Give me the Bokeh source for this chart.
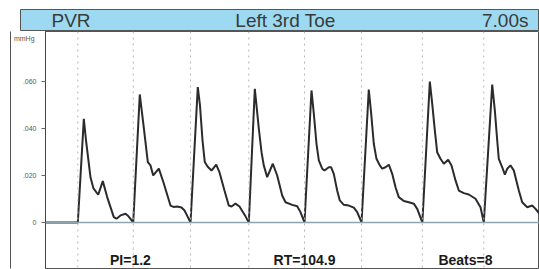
from bokeh.plotting import figure
from bokeh.layouts import column
from bokeh.models import Range1d, Span, Label, FixedTicker, LinearAxis
from bokeh.core.properties import value
from bokeh.embed import file_html
from bokeh.resources import INLINE

# ---- data ----
header_left = "PVR"
header_center = "Left 3rd Toe"
header_right = "7.00s"
duration_s = 7.00

time_s = [0.000, 0.458, 0.543, 0.574, 0.614, 0.638, 0.680, 0.747, 0.812, 0.874, 0.968, 1.006, 1.063, 1.134, 1.176, 1.243,
          1.336, 1.389, 1.450, 1.488, 1.526, 1.606, 1.672, 1.771, 1.814, 1.866, 1.927, 1.970, 2.012, 2.055,
          2.158, 2.189, 2.225, 2.257, 2.296, 2.352, 2.419, 2.466, 2.536, 2.597, 2.636, 2.692, 2.749, 2.792, 2.834, 2.881,
          2.966, 3.023, 3.061, 3.093, 3.141, 3.221, 3.283, 3.354, 3.401, 3.496, 3.567, 3.613, 3.670,
          3.769, 3.802, 3.840, 3.873, 3.921, 3.953, 4.014, 4.048, 4.085, 4.133, 4.170, 4.227, 4.298, 4.369, 4.417, 4.478,
          4.581, 4.615, 4.652, 4.690, 4.737, 4.771, 4.818, 4.865, 4.913, 4.960, 5.006, 5.077, 5.148, 5.219, 5.267, 5.340,
          5.446, 5.480, 5.517, 5.550, 5.597, 5.644, 5.706, 5.753, 5.810, 5.857, 5.928, 5.998, 6.093, 6.164, 6.211,
          6.330, 6.367, 6.401, 6.423, 6.472, 6.509, 6.543, 6.589, 6.636, 6.707, 6.755, 6.826, 6.897, 6.944, 7.000]

pressure = [0, 0, 0.0441, 0.0349, 0.0251, 0.0191, 0.0145, 0.0118, 0.0176, 0.0108, 0.0023, 0.0016, 0.0030, 0.0037, 0.0026, 0,
            0.0545, 0.0413, 0.0257, 0.0243, 0.0200, 0.0229, 0.0170, 0.0072, 0.0066, 0.0068, 0.0064, 0.0051, 0.0026, 0,
            0.0576, 0.0498, 0.0349, 0.0257, 0.0238, 0.0221, 0.0246, 0.0213, 0.0136, 0.0072, 0.0068, 0.0080, 0.0068, 0.0047, 0.0026, 0,
            0.0569, 0.0399, 0.0299, 0.0243, 0.0193, 0.0250, 0.0200, 0.0115, 0.0086, 0.0075, 0.0069, 0.0044, 0,
            0.0562, 0.0463, 0.0335, 0.0264, 0.0229, 0.0221, 0.0235, 0.0235, 0.0207, 0.0136, 0.0094, 0.0075, 0.0072, 0.0063, 0.0044, 0,
            0.0566, 0.0463, 0.0335, 0.0271, 0.0243, 0.0229, 0.0235, 0.0246, 0.0207, 0.0150, 0.0108, 0.0091, 0.0086, 0.0080, 0.0058, 0,
            0.0600, 0.0505, 0.0391, 0.0299, 0.0271, 0.0250, 0.0267, 0.0243, 0.0179, 0.0136, 0.0125, 0.0119, 0.0101, 0.0065, 0,
            0.0587, 0.0477, 0.0349, 0.0271, 0.0235, 0.0204, 0.0229, 0.0243, 0.0221, 0.0136, 0.0086, 0.0065, 0.0072, 0.0058, 0.0037]

beat_onsets = [0.458, 1.243, 2.055, 2.881, 3.670, 4.478, 5.340, 6.211]

y_ticks = [0, 0.02, 0.04, 0.06]
y_tick_labels = ["0", ".020", ".040", ".060"]
y_unit = " mmHg"
y_unit_pos = 0.0783

stat_texts = ["PI=1.2", "RT=104.9", "Beats=8"]
stat_times = [1.204, 3.670, 5.951]

FONT = "Liberation Sans"

# ---- header band ----
hdr = figure(width=539, height=31, x_range=Range1d(0, 519), y_range=Range1d(0, 22),
             x_axis_type=None, y_axis_type=None, output_backend="svg", toolbar_location=None,
             min_border_left=20, min_border_right=0, min_border_top=9, min_border_bottom=0)
hdr.frame_align = False
hdr.background_fill_color = "#9ddaf1"
hdr.border_fill_color = "white"
hdr.outline_line_color = "#555555"
for x, txt, al in [(31, header_left, "left"), (265, header_center, "center"), (508, header_right, "right")]:
    hdr.text(x=[x], y=[10.8], text=[txt], text_font=value(FONT), text_font_size="19px",
             text_color="#3a3a3a", text_align=al, text_baseline="middle")

# ---- main trace ----
p = figure(width=539, height=238, x_range=Range1d(0, duration_s), y_range=Range1d(-0.0196, 0.0813),
           x_axis_type=None, output_backend="svg", toolbar_location=None,
           min_border_left=45, min_border_right=0, min_border_top=0, min_border_bottom=1)
p.frame_align = False
p.background_fill_color = "white"
p.border_fill_color = "white"
p.outline_line_color = "#555555"
p.ygrid.visible = False

ax = p.yaxis[0]
ax.ticker = FixedTicker(ticks=y_ticks + [y_unit_pos], minor_ticks=y_ticks)
labels = {t: l for t, l in zip(y_ticks, y_tick_labels)}
labels[y_unit_pos] = y_unit
ax.major_label_overrides = labels
ax.axis_line_color = "#444444"
ax.major_tick_line_color = None
ax.major_tick_out = 0
ax.major_tick_in = 0
ax.minor_tick_line_color = "#666666"
ax.minor_tick_out = 4
ax.minor_tick_in = 0
ax.major_label_text_font = FONT
ax.major_label_text_font_size = "7px"
ax.major_label_text_color = "#555555"
ax.major_label_standoff = 5

# outer frame line, left of the tick labels
outer = LinearAxis(ticker=FixedTicker(ticks=[]), major_tick_out=0, major_tick_in=0,
                   major_tick_line_color=None, minor_tick_line_color=None,
                   major_label_text_font_size="0px", axis_line_color="#555555")
p.add_layout(outer, "left")

for t in beat_onsets:
    p.add_layout(Span(location=t, dimension="height", line_color="#b5b5b5",
                      line_dash="dotted", line_width=1))
p.add_layout(Span(location=0, dimension="width", line_color="#8ea4ae", line_width=1.5))

p.line(time_s, pressure, line_color="#2b2b2b", line_width=2)

for t, s in zip(stat_times, stat_texts):
    p.add_layout(Label(x=t, y=-0.0160, text=s, text_font=FONT, text_font_size="14px",
                       text_font_style="bold", text_color="#1a1a1a",
                       text_align="center", text_baseline="middle"))

layout = column(hdr, p, spacing=0)
open("out.html", "w").write(file_html(layout, INLINE))
